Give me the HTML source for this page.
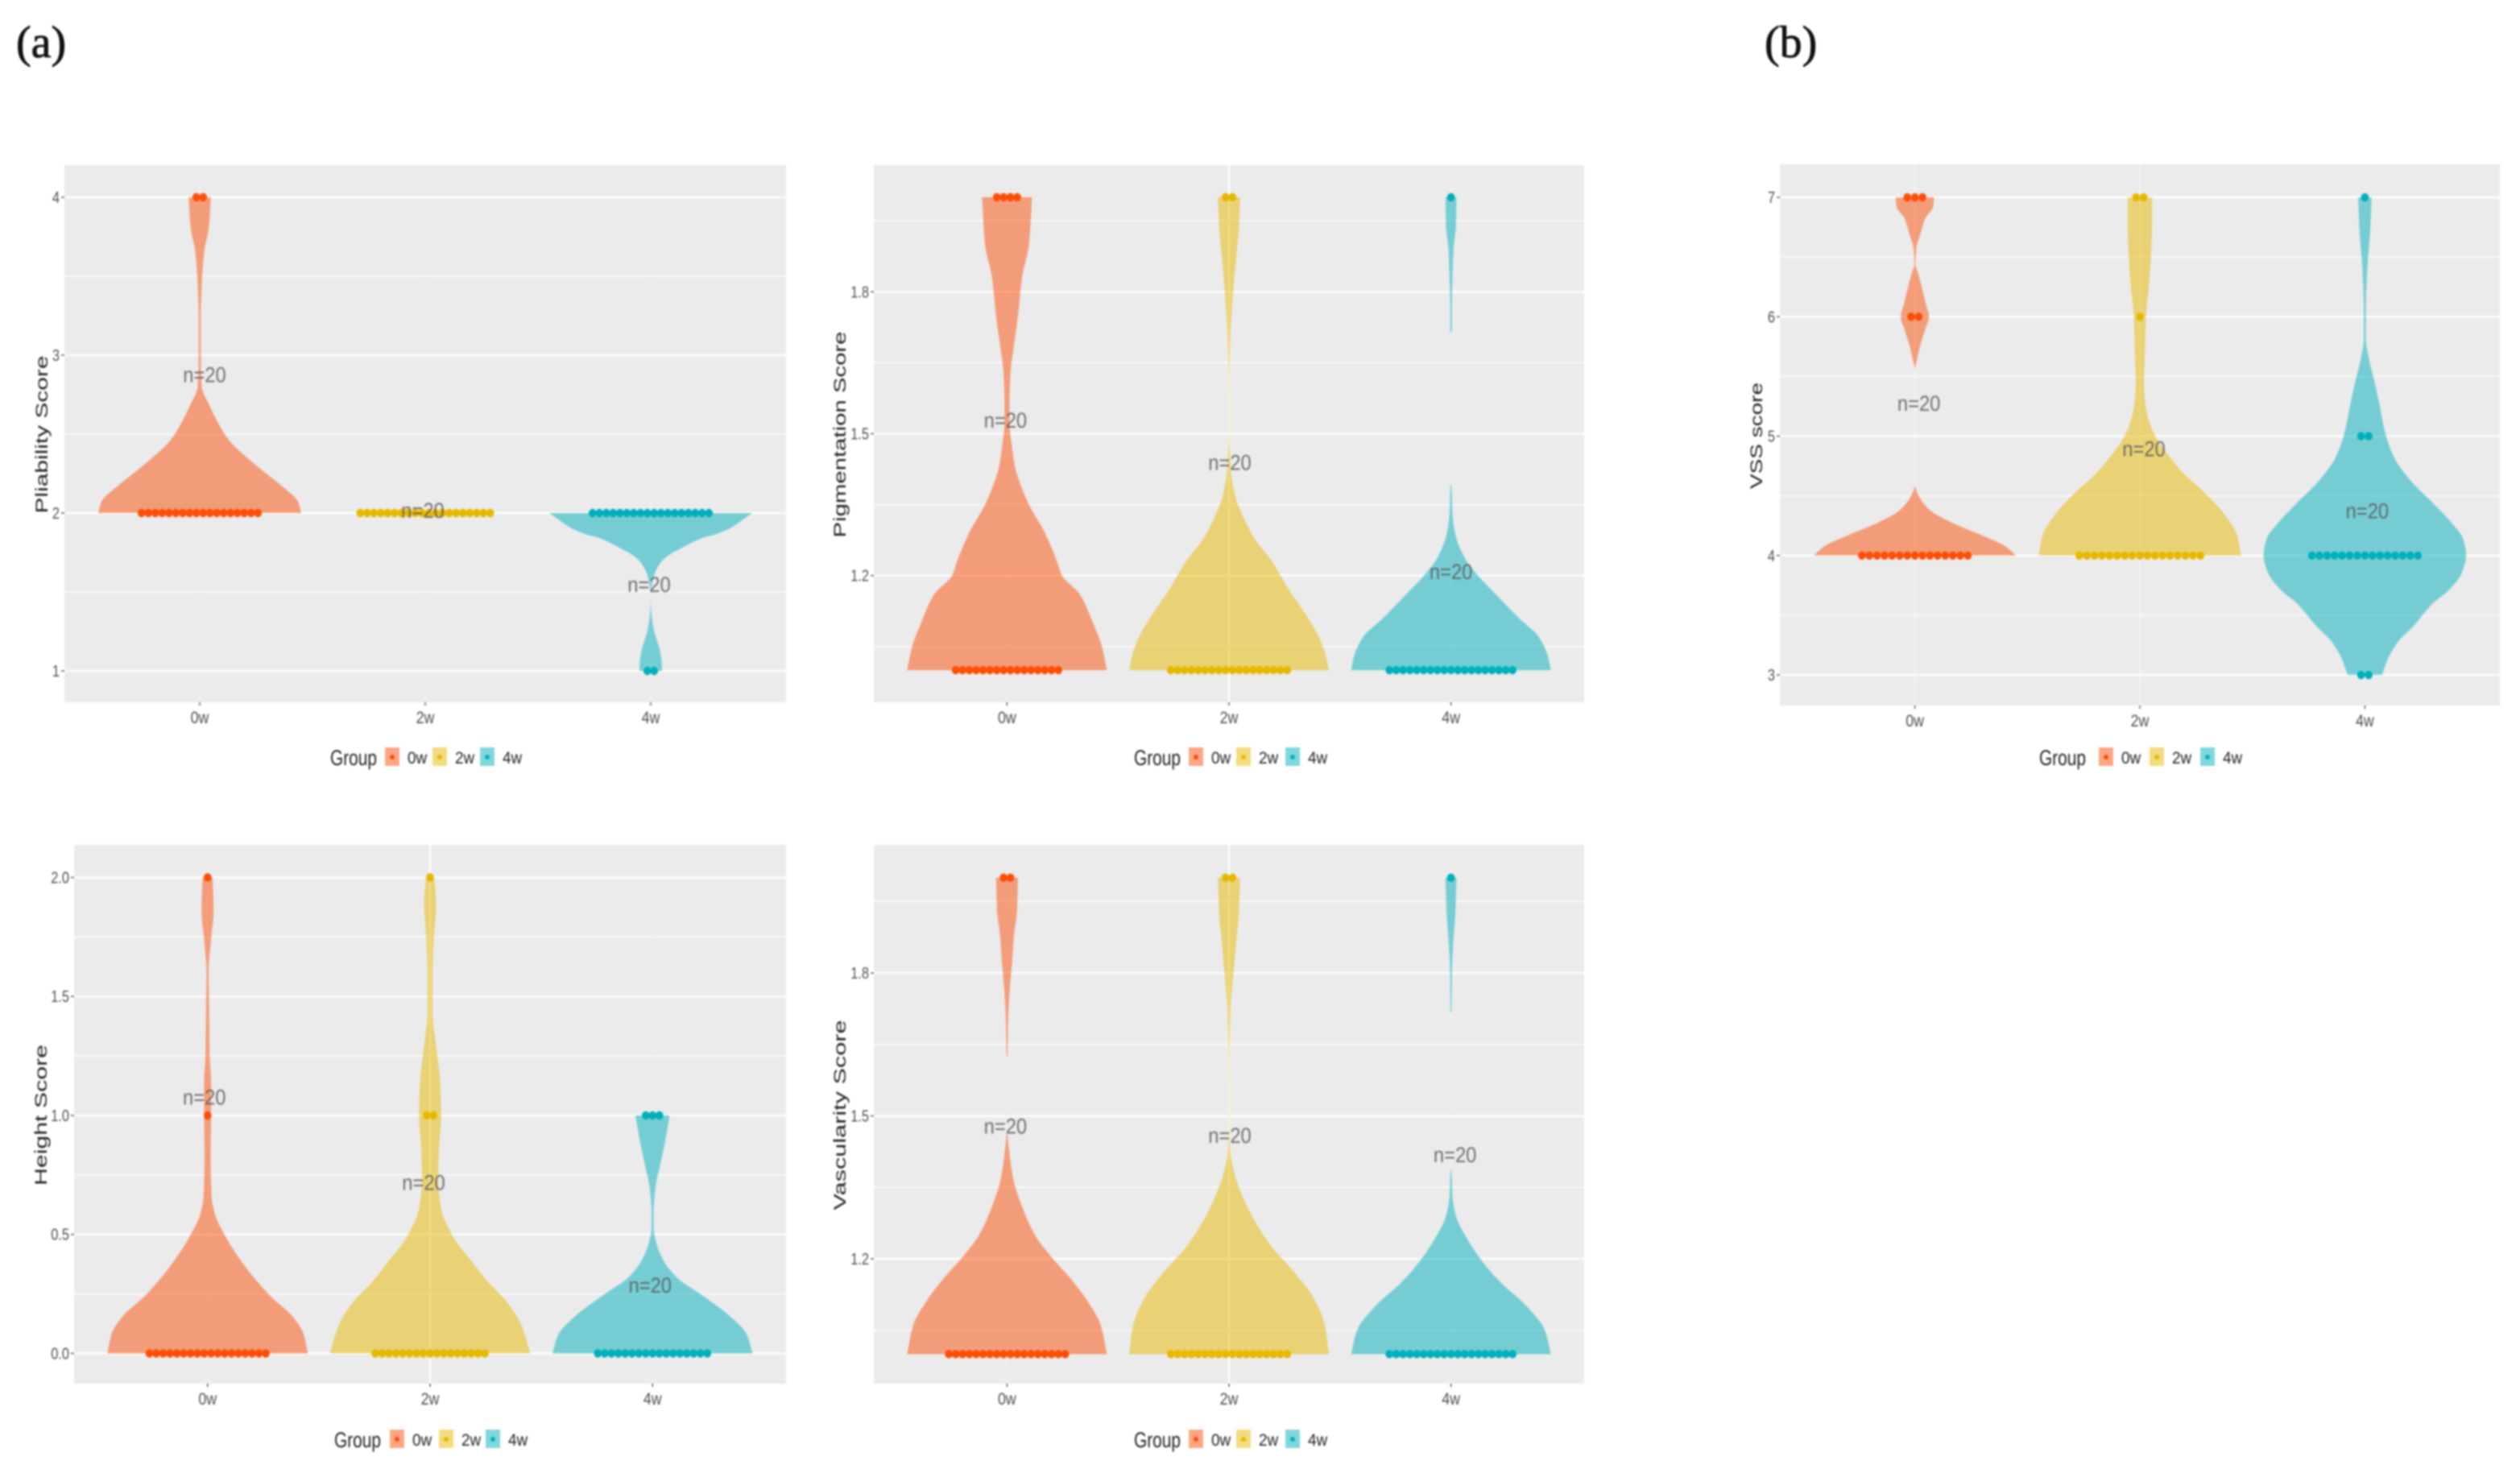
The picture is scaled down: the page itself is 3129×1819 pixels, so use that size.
<!DOCTYPE html>
<html lang="en">
<head>
<meta charset="utf-8">
<title>Violin plots of scar scores</title>
<style>
html,body{margin:0;padding:0;background:#fff;}
#figure{display:block;width:3129px;height:1819px;filter:blur(1.1px);font-family:"Liberation Sans",sans-serif;}
</style>
</head>
<body>
<svg id="figure" xmlns="http://www.w3.org/2000/svg" width="3129" height="1819" viewBox="0 0 3129 1819">
  <rect x="0" y="0" width="3129" height="1819" fill="#ffffff"/>
  <text x="20" y="71" font-family="'Liberation Serif',serif" font-size="56" fill="#111" stroke="#111" stroke-width="0.8">(a)</text>
  <text x="2191" y="71" font-family="'Liberation Serif',serif" font-size="56" fill="#111" stroke="#111" stroke-width="0.8">(b)</text>
  <g id="plots"></g>
</svg>
<script>
// ---------- Shared categories ----------
const categories = ['0w', '2w', '4w'];
const colors = ['#FC4E07', '#E7B800', '#00AFBB'];
const nLabels = ['n=20', 'n=20', 'n=20'];

// ---------- Pliability ----------
const pliabilityTicks = [1, 2, 3, 4];
const pliabilityTickLabels = ['1', '2', '3', '4'];
const pliabilityMinor = [1.5, 2.5, 3.5];
const pliabilityNY = [2.88, 2.02, 1.55];
const pliability0wScores = [4, 3.81, 3.66, 3.45, 3.24, 2.98, 2.8, 2.69, 2.56, 2.46, 2.3, 2.17, 2.07, 2];
const pliability0wDensity = [0.11, 0.09, 0.045, 0.02, 0.01, 0.01, 0.02, 0.09, 0.19, 0.29, 0.56, 0.81, 0.97, 1];
const pliability0wDotScores = [2, 4];
const pliability0wDotCounts = [18, 2];
const pliability2wScores = [2, 2];
const pliability2wDensity = [0, 0];
const pliability2wDotScores = [2];
const pliability2wDotCounts = [20];
const pliability4wScores = [2, 1.95, 1.91, 1.87, 1.84, 1.78, 1.73, 1.68, 1.6, 1.52, 1.47, 1.38, 1.26, 1.13, 1.03, 1];
const pliability4wDensity = [1, 0.89, 0.8, 0.66, 0.5, 0.31, 0.17, 0.09, 0.03, 0.005, 0, 0.005, 0.03, 0.09, 0.11, 0.11];
const pliability4wDotScores = [2, 1];
const pliability4wDotCounts = [18, 2];

// ---------- Pigmentation ----------
const pigmentationTicks = [1.2, 1.5, 1.8];
const pigmentationTickLabels = ['1.2', '1.5', '1.8'];
const pigmentationMinor = [1.05, 1.35, 1.65, 1.95];
const pigmentationNY = [1.53, 1.44, 1.21];
const pigmentation0wScores = [2, 1.9, 1.83, 1.75, 1.68, 1.63, 1.57, 1.52, 1.48, 1.43, 1.39, 1.35, 1.29, 1.23, 1.2, 1.16, 1.1, 1.05, 1];
const pigmentation0wDensity = [0.25, 0.22, 0.15, 0.11, 0.065, 0.035, 0.025, 0.025, 0.045, 0.08, 0.14, 0.22, 0.38, 0.5, 0.55, 0.73, 0.86, 0.95, 1];
const pigmentation0wDotScores = [1, 2];
const pigmentation0wDotCounts = [16, 4];
const pigmentation2wScores = [2, 1.94, 1.87, 1.81, 1.75, 1.68, 1.63, 1.56, 1.5, 1.46, 1.42, 1.37, 1.33, 1.28, 1.23, 1.17, 1.12, 1.07, 1.03, 1];
const pigmentation2wDensity = [0.11, 0.1, 0.07, 0.045, 0.025, 0.01, 0.005, 0.003, 0.003, 0.01, 0.02, 0.06, 0.13, 0.25, 0.43, 0.6, 0.76, 0.9, 0.97, 1];
const pigmentation2wDotScores = [1, 2];
const pigmentation2wDotCounts = [18, 2];
const pigmentation4wScores = [2, 1.94, 1.89, 1.83, 1.76, 1.72, 1.71, 1.395, 1.39, 1.33, 1.29, 1.24, 1.2, 1.16, 1.11, 1.07, 1.03, 1];
const pigmentation4wDensity = [0.055, 0.05, 0.025, 0.015, 0.008, 0.008, 0, 0, 0.005, 0.015, 0.04, 0.13, 0.27, 0.45, 0.68, 0.88, 0.97, 1];
const pigmentation4wDotScores = [1, 2];
const pigmentation4wDotCounts = [19, 1];

// ---------- VSS ----------
const vssTicks = [3, 4, 5, 6, 7];
const vssTickLabels = ['3', '4', '5', '6', '7'];
const vssMinor = [3.5, 4.5, 5.5, 6.5];
const vssNY = [5.28, 4.9, 4.38];
const vss0wScores = [7, 6.92, 6.82, 6.68, 6.58, 6.44, 6.37, 6.24, 6.1, 6, 5.89, 5.75, 5.62, 5.55, 4.6, 4.57, 4.48, 4.38, 4.27, 4.17, 4.08, 4];
const vss0wDensity = [0.19, 0.18, 0.1, 0.05, 0.015, 0.005, 0.03, 0.07, 0.11, 0.14, 0.1, 0.05, 0.015, 0, 0, 0.005, 0.05, 0.15, 0.38, 0.66, 0.89, 1];
const vss0wDotScores = [4, 6, 7];
const vss0wDotCounts = [15, 2, 3];
const vss2wScores = [7, 6.75, 6.51, 6.27, 6, 5.72, 5.44, 5.24, 5.1, 4.96, 4.82, 4.69, 4.51, 4.34, 4.17, 4];
const vss2wDensity = [0.12, 0.12, 0.11, 0.09, 0.06, 0.05, 0.04, 0.06, 0.1, 0.18, 0.3, 0.43, 0.66, 0.84, 0.96, 1];
const vss2wDotScores = [4, 6, 7];
const vss2wDotCounts = [17, 1, 2];
const vss4wScores = [7, 6.75, 6.41, 6.06, 5.82, 5.65, 5.44, 5.24, 5.03, 4.82, 4.62, 4.45, 4.27, 4.14, 4, 3.86, 3.72, 3.59, 3.41, 3.28, 3.14, 3];
const vss4wDensity = [0.066, 0.055, 0.025, 0.01, 0.01, 0.04, 0.1, 0.15, 0.2, 0.29, 0.46, 0.66, 0.86, 0.97, 1, 0.96, 0.84, 0.66, 0.48, 0.33, 0.23, 0.17];
const vss4wDotScores = [7, 5, 4, 3];
const vss4wDotCounts = [1, 2, 15, 2];

// ---------- Height ----------
const heightTicks = [0, 0.5, 1, 1.5, 2];
const heightTickLabels = ['0.0', '0.5', '1.0', '1.5', '2.0'];
const heightMinor = [0.25, 0.75, 1.25, 1.75];
const heightNY = [1.08, 0.72, 0.29];
const height0wScores = [2, 1.86, 1.74, 1.6, 1.47, 1.26, 1.14, 1, 0.83, 0.66, 0.59, 0.49, 0.41, 0.32, 0.24, 0.15, 0.08, 0];
const height0wDensity = [0.05, 0.06, 0.035, 0.01, 0.015, 0.02, 0.035, 0.035, 0.03, 0.04, 0.07, 0.18, 0.3, 0.46, 0.63, 0.86, 0.96, 1];
const height0wDotScores = [0, 1, 2];
const height0wDotCounts = [18, 1, 1];
const height2wScores = [2, 1.89, 1.76, 1.6, 1.43, 1.29, 1.14, 1, 0.87, 0.73, 0.61, 0.49, 0.39, 0.3, 0.22, 0.13, 0.06, 0];
const height2wDensity = [0.04, 0.06, 0.04, 0.025, 0.025, 0.06, 0.1, 0.11, 0.09, 0.08, 0.11, 0.23, 0.41, 0.58, 0.76, 0.9, 0.96, 1];
const height2wDotScores = [0, 1, 2];
const height2wDotCounts = [17, 2, 1];
const height4wScores = [1, 0.9, 0.8, 0.7, 0.59, 0.53, 0.46, 0.39, 0.32, 0.24, 0.15, 0.08, 0];
const height4wDensity = [0.17, 0.13, 0.08, 0.03, 0.01, 0.01, 0.04, 0.11, 0.24, 0.51, 0.79, 0.94, 1];
const height4wDotScores = [0, 1];
const height4wDotCounts = [17, 3];

// ---------- Vascularity ----------
const vascularityTicks = [1.2, 1.5, 1.8];
const vascularityTickLabels = ['1.2', '1.5', '1.8'];
const vascularityMinor = [1.05, 1.35, 1.65, 1.95];
const vascularityNY = [1.48, 1.46, 1.42];
const vascularity0wScores = [2, 1.93, 1.88, 1.82, 1.76, 1.69, 1.63, 1.62, 1.47, 1.46, 1.42, 1.37, 1.31, 1.25, 1.2, 1.16, 1.11, 1.06, 1];
const vascularity0wDensity = [0.11, 0.1, 0.07, 0.05, 0.025, 0.01, 0.005, 0, 0, 0.005, 0.025, 0.06, 0.15, 0.28, 0.46, 0.63, 0.81, 0.94, 1];
const vascularity0wDotScores = [1, 2];
const vascularity0wDotCounts = [18, 2];
const vascularity2wScores = [2, 1.93, 1.86, 1.79, 1.72, 1.63, 1.54, 1.49, 1.43, 1.39, 1.35, 1.29, 1.23, 1.17, 1.12, 1.06, 1];
const vascularity2wDensity = [0.11, 0.1, 0.07, 0.04, 0.015, 0.005, 0.003, 0.003, 0.01, 0.04, 0.1, 0.23, 0.41, 0.66, 0.84, 0.96, 1];
const vascularity2wDotScores = [1, 2];
const vascularity2wDotCounts = [18, 2];
const vascularity4wScores = [2, 1.93, 1.87, 1.81, 1.72, 1.715, 1.39, 1.385, 1.33, 1.29, 1.25, 1.19, 1.15, 1.1, 1.05, 1];
const vascularity4wDensity = [0.055, 0.045, 0.025, 0.01, 0.005, 0, 0, 0.005, 0.015, 0.05, 0.14, 0.33, 0.5, 0.76, 0.94, 1];
const vascularity4wDotScores = [1, 2];
const vascularity4wDotCounts = [19, 1];

// ---------- Panel layout (pixels live here, not in the data arrays) ----------
const panels = [
  { key:'pliability', title:'Pliability Score', left:80, right:976, top:205, bottom:872, yMin:0.801, yMax:4.204,
    ticks:pliabilityTicks, tickLabels:pliabilityTickLabels, minor:pliabilityMinor, nY:pliabilityNY, nDx:[6,-3,-2],
    series:[[pliability0wScores,pliability0wDensity,pliability0wDotScores,pliability0wDotCounts],
            [pliability2wScores,pliability2wDensity,pliability2wDotScores,pliability2wDotCounts],
            [pliability4wScores,pliability4wDensity,pliability4wDotScores,pliability4wDotCounts]],
    dotGap:8.5, vGrid:[0.15,0.15,0.15], titleX:52, titleLen:196, legendX:410, legendY:940, keyOff:[68,127,186] },
  { key:'pigmentation', title:'Pigmentation Score', left:1085, right:1967, top:205, bottom:872, yMin:0.932, yMax:2.068,
    ticks:pigmentationTicks, tickLabels:pigmentationTickLabels, minor:pigmentationMinor, nY:pigmentationNY, nDx:[-2,1,0],
    series:[[pigmentation0wScores,pigmentation0wDensity,pigmentation0wDotScores,pigmentation0wDotCounts],
            [pigmentation2wScores,pigmentation2wDensity,pigmentation2wDotScores,pigmentation2wDotCounts],
            [pigmentation4wScores,pigmentation4wDensity,pigmentation4wDotScores,pigmentation4wDotCounts]],
    dotGap:8.5, vGrid:[0.2,1,0.2], titleX:1043, titleLen:256, legendX:1408, legendY:940, keyOff:[68,127,188] },
  { key:'vss', title:'VSS score', left:2210, right:3104, top:204, bottom:876, yMin:2.744, yMax:7.277,
    ticks:vssTicks, tickLabels:vssTickLabels, minor:vssMinor, nY:vssNY, nDx:[5,5,3],
    series:[[vss0wScores,vss0wDensity,vss0wDotScores,vss0wDotCounts],
            [vss2wScores,vss2wDensity,vss2wDotScores,vss2wDotCounts],
            [vss4wScores,vss4wDensity,vss4wDotScores,vss4wDotCounts]],
    dotGap:9.4, vGrid:[0.35,0.35,0.2], titleX:2181, titleLen:132, legendX:2532, legendY:940, keyOff:[74,137,200] },
  { key:'height', title:'Height Score', left:92, right:976, top:1049, bottom:1718, yMin:-0.127, yMax:2.137,
    ticks:heightTicks, tickLabels:heightTickLabels, minor:heightMinor, nY:heightNY, nDx:[-4,-8,-3],
    series:[[height0wScores,height0wDensity,height0wDotScores,height0wDotCounts],
            [height2wScores,height2wDensity,height2wDotScores,height2wDotCounts],
            [height4wScores,height4wDensity,height4wDotScores,height4wDotCounts]],
    dotGap:8.5, vGrid:[0.15,1,0.15], titleX:51, titleLen:175, legendX:415, legendY:1787, keyOff:[69,130,188] },
  { key:'vascularity', title:'Vascularity Score', left:1085, right:1967, top:1049, bottom:1718, yMin:0.938, yMax:2.069,
    ticks:vascularityTicks, tickLabels:vascularityTickLabels, minor:vascularityMinor, nY:vascularityNY, nDx:[-2,1,5],
    series:[[vascularity0wScores,vascularity0wDensity,vascularity0wDotScores,vascularity0wDotCounts],
            [vascularity2wScores,vascularity2wDensity,vascularity2wDotScores,vascularity2wDotCounts],
            [vascularity4wScores,vascularity4wDensity,vascularity4wDotScores,vascularity4wDotCounts]],
    dotGap:8.5, vGrid:[0.2,1,0.2], titleX:1043, titleLen:236, legendX:1408, legendY:1787, keyOff:[68,127,188] }
];

const SVG_NS = 'http://www.w3.org/2000/svg';
const root = document.getElementById('plots');

function make(tag, parent, attrs) {
  const el = document.createElementNS(SVG_NS, tag);
  for (const k in attrs) el.setAttribute(k, attrs[k]);
  parent.appendChild(el);
  return el;
}

// Draws text squeezed horizontally like the resampled reference image.
function label(parent, str, x, y, size, fill, anchor, squeeze, fixedLen) {
  const el = make('text', parent, { x: x, y: y, 'font-size': size, fill: fill, 'text-anchor': anchor });
  el.textContent = str;
  const len = fixedLen || el.getComputedTextLength() * squeeze;
  el.setAttribute('textLength', len);
  el.setAttribute('lengthAdjust', 'spacingAndGlyphs');
  return el;
}

// Smooth violin outline: monotone cubic through the half-widths, mirrored around the centre.
function violinPath(cx, ys, hw) {
  const n = ys.length;
  const h = [], d = [], m = [];
  for (let k = 0; k < n - 1; k++) {
    h[k] = (ys[k + 1] - ys[k]) || 1;
    d[k] = (hw[k + 1] - hw[k]) / h[k];
  }
  m[0] = d[0];
  m[n - 1] = d[n - 2];
  for (let k = 1; k < n - 1; k++) {
    m[k] = d[k - 1] * d[k] <= 0 ? 0 : 2 * d[k - 1] * d[k] / (d[k - 1] + d[k]);
  }
  let path = 'M' + (cx + hw[0]) + ' ' + ys[0];
  for (let k = 0; k < n - 1; k++) {
    path += 'C' + (cx + hw[k] + m[k] * h[k] / 3) + ' ' + (ys[k] + h[k] / 3) + ' ' +
            (cx + hw[k + 1] - m[k + 1] * h[k] / 3) + ' ' + (ys[k + 1] - h[k] / 3) + ' ' +
            (cx + hw[k + 1]) + ' ' + ys[k + 1];
  }
  path += 'L' + (cx - hw[n - 1]) + ' ' + ys[n - 1];
  for (let k = n - 2; k >= 0; k--) {
    path += 'C' + (cx - hw[k + 1] + m[k + 1] * h[k] / 3) + ' ' + (ys[k + 1] - h[k] / 3) + ' ' +
            (cx - hw[k] - m[k] * h[k] / 3) + ' ' + (ys[k] + h[k] / 3) + ' ' +
            (cx - hw[k]) + ' ' + ys[k];
  }
  return path + 'Z';
}

function drawPanel(p) {
  const g = make('g', root, {});
  
  

  const unit = (p.right - p.left) / 3.2;
  const xScale = i => p.left + unit * (0.6 + i);
  const yScale = v => p.bottom - (v - p.yMin) / (p.yMax - p.yMin) * (p.bottom - p.top);
  const widthScale = d => d * 0.45 * unit;

  const bg = make('rect', g, { x: p.left, y: p.top, width: p.right - p.left, height: p.bottom - p.top, fill: '#EBEBEB' });
  
  

  p.minor.forEach(v => {
    const ln = make('line', g, { x1: p.left, x2: p.right, y1: yScale(v), y2: yScale(v), stroke: '#fff', 'stroke-width': 1.5, 'stroke-opacity': 0.8 });
    
    
  });

  p.ticks.forEach((v, i) => {
    const y = yScale(v);
    const ln = make('line', g, { x1: p.left, x2: p.right, y1: y, y2: y, stroke: '#fff', 'stroke-width': 2.5, 'stroke-opacity': 0.9 });
    
    
    const tk = make('line', g, { x1: p.left - 4, x2: p.left, y1: y, y2: y, stroke: '#555', 'stroke-width': 1.4 });
    
    
    const t = label(g, p.tickLabels[i], p.left - 6, y + 7, 20, '#4d4d4d', 'end', 0.82);
    
    
  });

  categories.forEach((c, i) => {
    const x = xScale(i);
    const vl = make('line', g, { x1: x, x2: x, y1: p.top, y2: p.bottom, stroke: '#fff', 'stroke-width': 2.2, 'stroke-opacity': p.vGrid[i] });
    
    
    const tk = make('line', g, { x1: x, x2: x, y1: p.bottom, y2: p.bottom + 4, stroke: '#555', 'stroke-width': 1.4 });
    
    
    const t = label(g, c, x, p.bottom + 26, 21, '#4d4d4d', 'middle', 0.85);
    
    
  });

  const title = label(g, p.title, 0, 0, 21, '#222', 'middle', 1, p.titleLen);
  title.setAttribute('transform', 'translate(' + p.titleX + ',' + ((p.top + p.bottom) / 2 + 1) + ') rotate(-90) translate(0,7)');
  
  

  // Violins and dots, drawn from the data arrays through the axis functions.
  p.series.forEach((s, i) => {
    const [scores, density, dotScores, dotCounts] = s;
    const cx = xScale(i);
    const violin = make('path', g, { d: violinPath(cx, scores.map(yScale), density.map(widthScale)), fill: colors[i], 'fill-opacity': 0.5 });
    
    

    dotScores.forEach((v, k) => {
      const n = dotCounts[k];
      for (let j = 0; j < n; j++) {
        const dot = make('ellipse', g, { cx: cx + (j - (n - 1) / 2) * p.dotGap, cy: yScale(v), rx: 4.8, ry: 5.2, fill: colors[i] });
        
        
      }
    });

    const nl = label(g, nLabels[i], cx + p.nDx[i], yScale(p.nY[i]) + 10, 27, '#5c5c5c', 'middle', 0.88);
    nl.setAttribute('fill-opacity', '0.85');
    
    
  });

  // Legend
  const lg = make('g', g, {});
  
  
  const lt = label(lg, 'Group', p.legendX, p.legendY + 10, 27, '#222', 'start', 1, 58);
  
  
  categories.forEach((c, i) => {
    const kx = p.legendX + p.keyOff[i];
    const key = make('rect', lg, { x: kx, y: p.legendY - 12, width: 18, height: 23, fill: colors[i], 'fill-opacity': 0.5 });
    
    
    const kd = make('circle', lg, { cx: kx + 9, cy: p.legendY, r: 3, fill: colors[i] });
    
    
    const kt = label(lg, c, kx + 28, p.legendY + 8, 21, '#222', 'start', 0.9);
    
    
  });
}

panels.forEach(drawPanel);
</script>
</body>
</html>
